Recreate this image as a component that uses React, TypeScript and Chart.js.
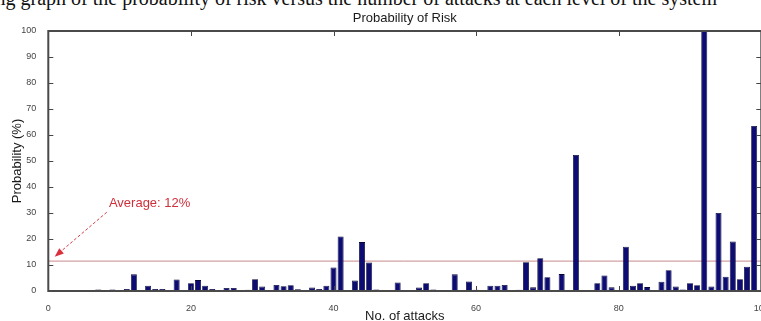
import React, { useEffect, useRef } from "react";
import { Chart, registerables } from "chart.js";

Chart.register(...registerables);

// ---- data ----
const chartTitle = "Probability of Risk";
const xAxisTitle = "No. of attacks";
const yAxisTitle = "Probability (%)";
const xTickStep = 20;
const yTickStep = 10;
const xMin = 0;
const xMax = 100;
const yMin = 0;
const yMax = 100;

// probability (%) for attack counts 1..100
const riskProbability = [
  0.3, 0.3, 0.3, 0.3, 0.3, 0.3, 0.6, 0.3, 0.6, 0.3,
  0.8, 6.4, 0.3, 2.0, 0.8, 0.8, 0.3, 4.4, 0.3, 3.0,
  4.2, 2.0, 0.8, 0.4, 1.2, 1.2, 0.3, 0.5, 4.5, 1.7,
  0.3, 2.3, 1.8, 2.2, 0.7, 0.3, 1.3, 0.8, 2.0, 9.0,
  21.0, 0.3, 4.0, 18.8, 11.0, 0.6, 0.3, 0.3, 3.3, 0.3,
  0.3, 1.3, 3.0, 0.6, 0.3, 0.3, 6.4, 0.3, 3.7, 0.5,
  0.3, 2.0, 2.0, 2.3, 0.3, 0.5, 11.1, 1.4, 12.6, 5.3,
  0.3, 6.5, 0.3, 52.3, 0.3, 0.3, 3.0, 6.0, 1.4, 0.3,
  17.0, 2.0, 3.0, 1.5, 0.3, 3.6, 8.0, 1.7, 0.6, 3.0,
  2.2, 100, 1.7, 30.0, 5.5, 19.0, 4.5, 9.3, 63.5, 0,
];

const averageValue = 11.5;
const averageLabel = "Average: 12%";
// annotation anchor points in data units
const annotationTextPos = { x: 8.5, y: 33.7 };
const arrowStart = { x: 8.2, y: 30.3 };
const arrowTip = { x: 0.9, y: 13.2 };

const headerText =
  "ing graph of the probability of risk versus the number of attacks at each level of the system";

const frameAndAnnotation = {
  id: "frameAndAnnotation",
  afterDatasetsDraw(chart: any) {
    const { ctx, chartArea, scales } = chart;
    const { left, right, top, bottom } = chartArea;
    const x = scales.x;
    const y = scales.y;
    ctx.save();
    // inward ticks
    ctx.strokeStyle = "#444";
    ctx.lineWidth = 1;
    const seg = (x1: number, y1: number, x2: number, y2: number) => {
      ctx.beginPath();
      ctx.moveTo(x1, y1);
      ctx.lineTo(x2, y2);
      ctx.stroke();
    };
    y.ticks.forEach((t: any) => {
      const py = Math.round(y.getPixelForValue(t.value)) + 0.5;
      seg(left, py, left + 5, py);
      seg(right, py, right - 5, py);
    });
    x.ticks.forEach((t: any) => {
      const px = Math.round(x.getPixelForValue(t.value)) + 0.5;
      seg(px, bottom, px, bottom - 5);
      seg(px, top, px, top + 5);
    });
    // box
    ctx.strokeStyle = "#4a4a4a";
    ctx.lineWidth = 2;
    ctx.strokeRect(left, top, right - left, bottom - top);

    // annotation arrow
    const sx = x.getPixelForValue(arrowStart.x);
    const sy = y.getPixelForValue(arrowStart.y);
    const tx = x.getPixelForValue(arrowTip.x);
    const ty = y.getPixelForValue(arrowTip.y);
    const ang = Math.atan2(ty - sy, tx - sx);
    const headLen = 9;
    const bx = tx - headLen * Math.cos(ang);
    const by = ty - headLen * Math.sin(ang);
    ctx.strokeStyle = "#d2404a";
    ctx.lineWidth = 1;
    ctx.setLineDash([3, 2]);
    ctx.beginPath();
    ctx.moveTo(sx, sy);
    ctx.lineTo(bx, by);
    ctx.stroke();
    ctx.setLineDash([]);
    ctx.fillStyle = "#d8303c";
    ctx.beginPath();
    ctx.moveTo(tx, ty);
    ctx.lineTo(bx + 3.5 * Math.sin(ang), by - 3.5 * Math.cos(ang));
    ctx.lineTo(bx - 3.5 * Math.sin(ang), by + 3.5 * Math.cos(ang));
    ctx.closePath();
    ctx.fill();

    // annotation text
    ctx.fillStyle = "#cf2f3b";
    ctx.font = "13px Arial, 'Liberation Sans', sans-serif";
    ctx.textAlign = "left";
    ctx.textBaseline = "middle";
    ctx.fillText(
      averageLabel,
      x.getPixelForValue(annotationTextPos.x),
      y.getPixelForValue(annotationTextPos.y)
    );
    ctx.restore();
  },
};

export default function App() {
  const canvasRef = useRef<HTMLCanvasElement | null>(null);

  useEffect(() => {
    if (!canvasRef.current) return;
    const barData = riskProbability.map((v, i) => ({ x: i + 1, y: v }));
    const avgData = [
      { x: xMin, y: averageValue },
      { x: xMax, y: averageValue },
    ];
    const chart = new Chart(canvasRef.current, {
      type: "bar",
      data: {
        datasets: [
          {
            type: "bar",
            data: barData,
            backgroundColor: "#0c0c72",
            borderColor: "#06063a",
            borderWidth: 0.8,
            barPercentage: 0.84,
            categoryPercentage: 1,
            order: 1,
          } as any,
          {
            type: "line",
            data: avgData,
            borderColor: "#c98a8a",
            borderWidth: 1,
            pointRadius: 0,
            fill: false,
            order: 2,
          } as any,
        ],
      },
      options: {
        animation: false,
        responsive: false,
        devicePixelRatio: 1,
        layout: { padding: { left: 0, right: 18.7, top: 0, bottom: 0 } },
        plugins: {
          legend: { display: false },
          tooltip: { enabled: false },
          title: {
            display: true,
            text: chartTitle,
            fullSize: false,
            color: "#1a1a1a",
            font: { size: 13, family: "Arial, 'Liberation Sans', sans-serif", weight: "normal" },
            padding: { top: 10.2, bottom: 5.2 },
          },
        },
        scales: {
          x: {
            type: "linear",
            min: xMin,
            max: xMax,
            offset: false,
            grid: { display: false, offset: false },
            border: { display: false },
            ticks: {
              stepSize: xTickStep,
              color: "#444",
              padding: 4,
              maxRotation: 0,
              font: { size: 9, family: "Arial, 'Liberation Sans', sans-serif" },
            },
            title: {
              display: true,
              text: xAxisTitle,
              color: "#1a1a1a",
              font: { size: 13, family: "Arial, 'Liberation Sans', sans-serif" },
              padding: { top: 0, bottom: -3.2 },
            },
            afterFit: (scale: any) => {
              scale.height = 30;
            },
          },
          y: {
            type: "linear",
            min: yMin,
            max: yMax,
            grid: { display: false },
            border: { display: false },
            ticks: {
              stepSize: yTickStep,
              color: "#444",
              padding: 4,
              font: { size: 9, family: "Arial, 'Liberation Sans', sans-serif" },
            },
            title: {
              display: true,
              text: yAxisTitle,
              color: "#1a1a1a",
              font: { size: 13, family: "Arial, 'Liberation Sans', sans-serif" },
              padding: { top: 9.2, bottom: 0 },
            },
            afterFit: (scale: any) => {
              scale.width = 48.3;
            },
          },
        },
      },
      plugins: [frameAndAnnotation],
    });
    return () => chart.destroy();
  }, []);

  return (
    <div
      style={{
        position: "fixed",
        left: 0,
        top: 0,
        width: 761,
        height: 321,
        overflow: "hidden",
        background: "#fff",
      }}
    >
      <div
        style={{
          position: "absolute",
          left: -10,
          top: -12.3,
          whiteSpace: "nowrap",
          fontFamily: "'Liberation Serif', 'Times New Roman', serif",
          fontSize: 20,
          lineHeight: "20px",
          color: "#111",
        }}
      >
        {headerText}
      </div>
      <canvas
        ref={canvasRef}
        width={780}
        height={321}
        style={{ position: "absolute", left: 0, top: 0, width: 780, height: 321, display: "block" }}
      />
    </div>
  );
}
